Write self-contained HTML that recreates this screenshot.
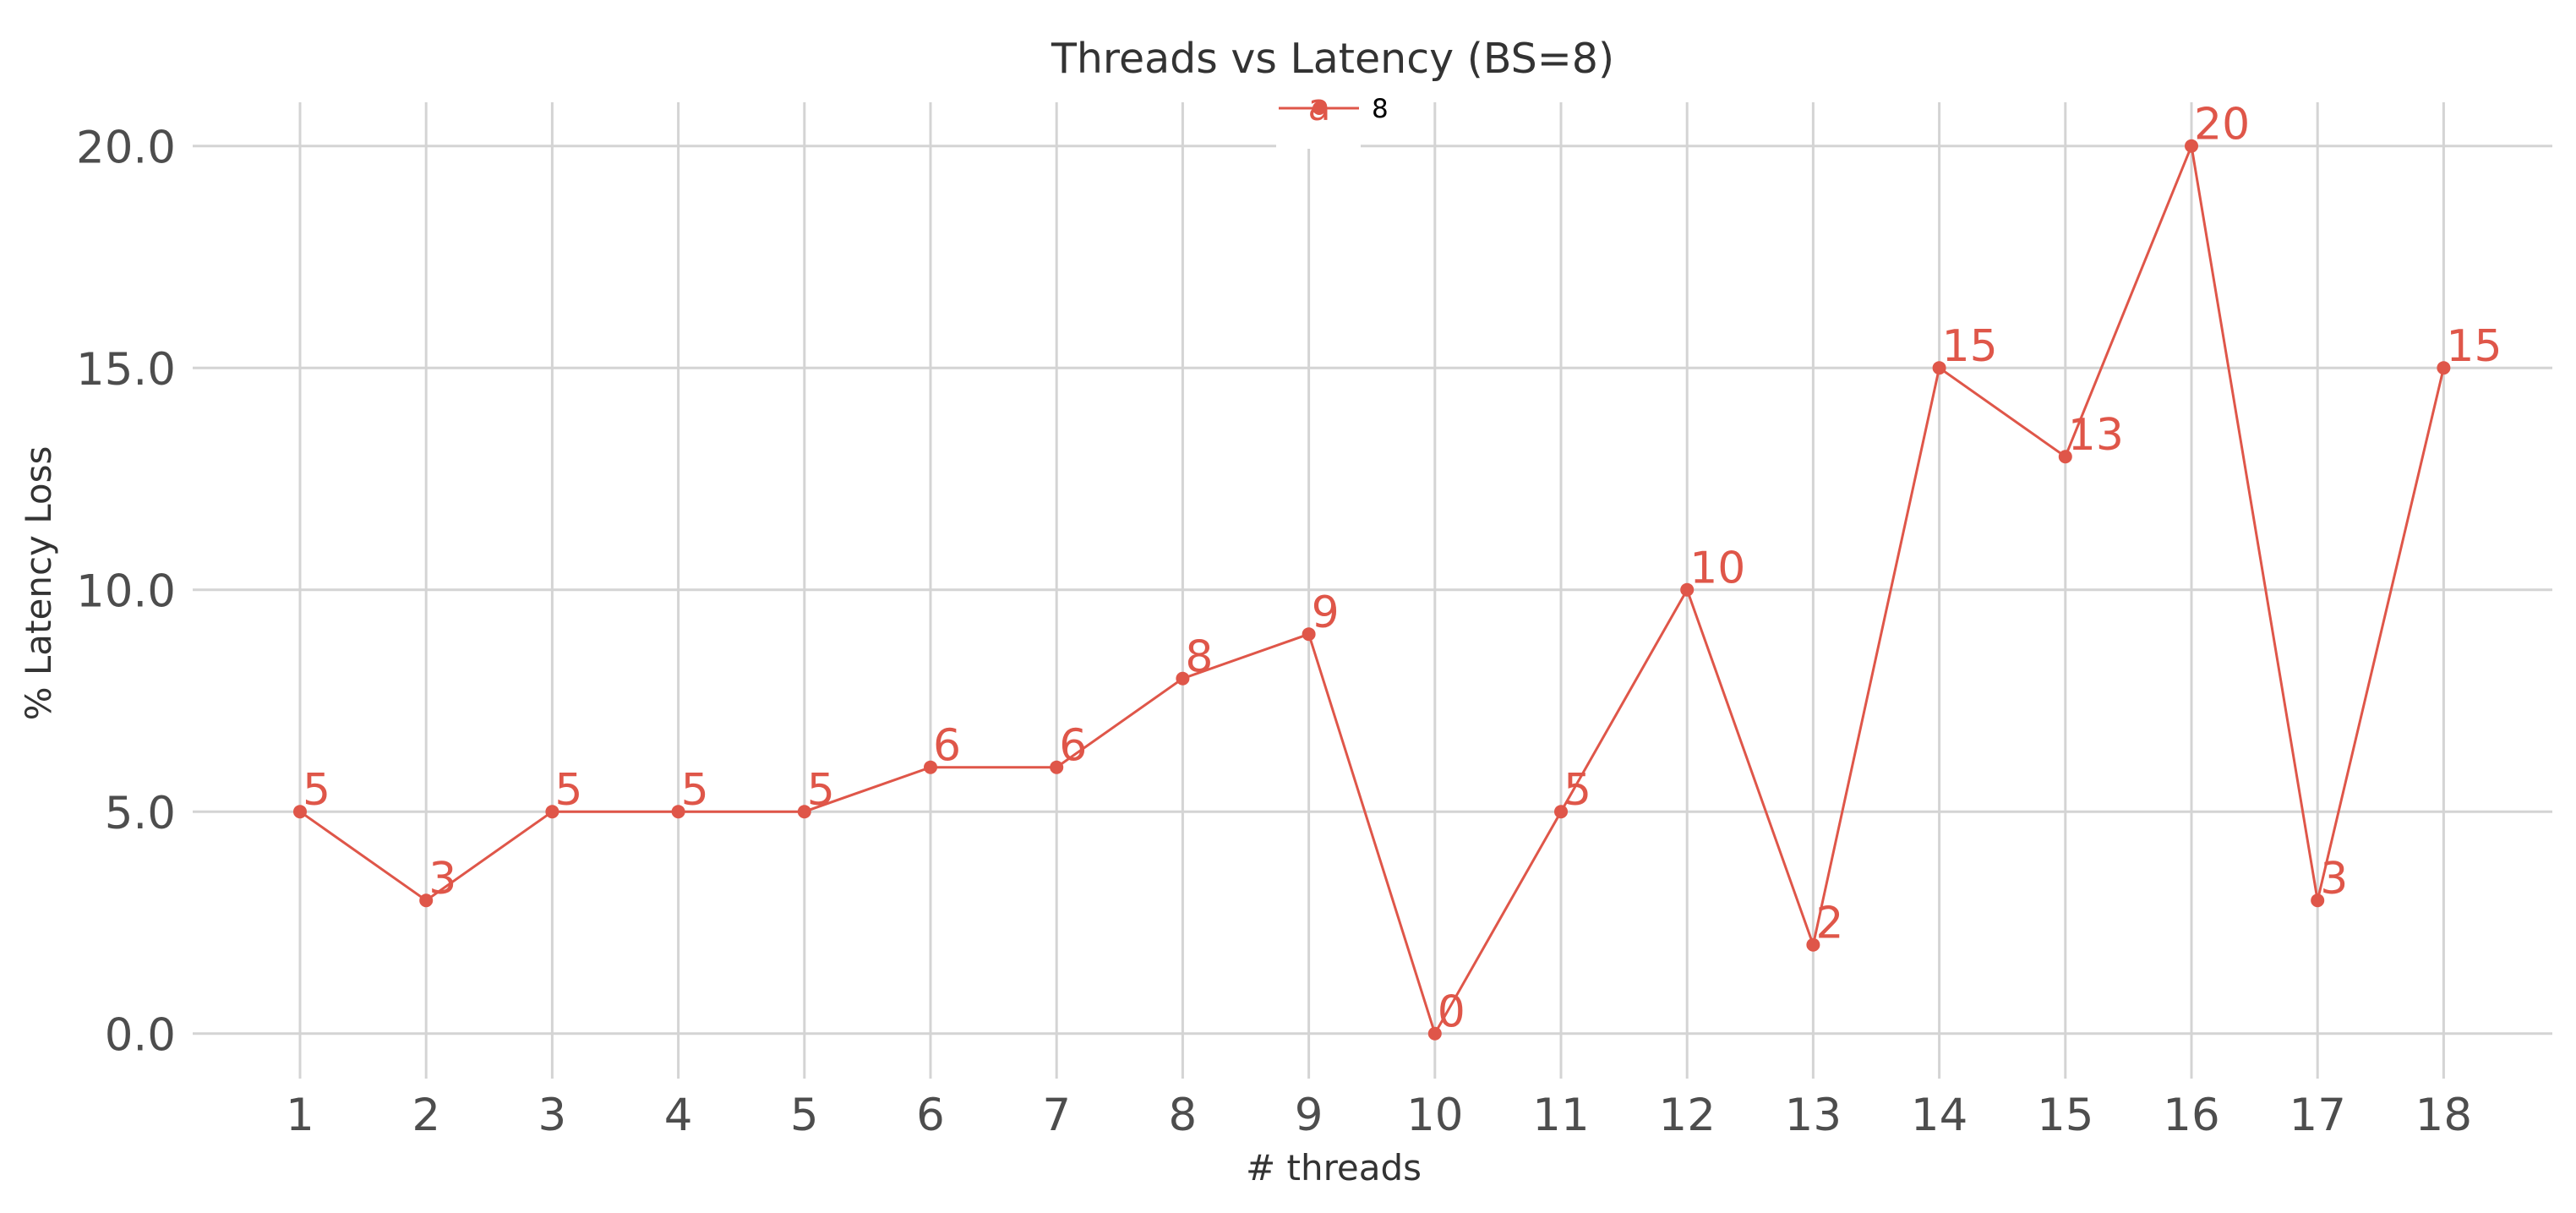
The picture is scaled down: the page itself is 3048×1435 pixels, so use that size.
<!DOCTYPE html>
<html><head><meta charset="utf-8"><style>
html,body{margin:0;padding:0;background:#fff;}
svg{display:block;font-family:"DejaVu Sans","Liberation Sans",sans-serif;}
</style></head><body>
<svg id="chart" width="3048" height="1435" viewBox="0 0 3048 1435" xmlns="http://www.w3.org/2000/svg">
<g id="grid"></g>
<g id="series"></g>
<g id="labels"></g>
<text x="1577" y="86" text-anchor="middle" font-size="49" fill="#333">Threads vs Latency (BS=8)</text>
<text x="1578" y="1396" text-anchor="middle" font-size="42" fill="#333"># threads</text>
<text transform="translate(60,690) rotate(-90)" text-anchor="middle" font-size="42" fill="#333">% Latency Loss</text>
<g>
<rect x="1510" y="110" width="100" height="66" fill="#fff"/>
<line x1="1513" y1="128" x2="1608" y2="128" stroke="#df5649" stroke-width="3"/>
<circle cx="1561" cy="128" r="8" fill="#df5649"/>
<text x="1561" y="142" text-anchor="middle" font-size="44" fill="#df5649">a</text>
<text x="1623" y="139" font-size="31" fill="#000">8</text>
</g>
</svg>
<script>
const threads = [1,2,3,4,5,6,7,8,9,10,11,12,13,14,15,16,17,18];
const latency = [5,3,5,5,5,6,6,8,9,0,5,10,2,15,13,20,3,15];
const yTicks = [0,5,10,15,20];
const yTickLabels = ["0.0","5.0","10.0","15.0","20.0"];

const NS = "http://www.w3.org/2000/svg";
const X0 = 355, DX = 149.2, Y0 = 1222.7, DY = 52.5;
function xs(v){ return X0 + (v-1)*DX; }
function ys(v){ return Y0 - v*DY; }
function mk(tag, attrs, parent){
  const e = document.createElementNS(NS, tag);
  for (const k in attrs) e.setAttribute(k, attrs[k]);
  parent.appendChild(e);
  return e;
}
const grid = document.getElementById('grid');
const labels = document.getElementById('labels');
const series = document.getElementById('series');
const GC = "#d4d4d4";
yTicks.forEach((t,i)=>{
  const l = mk('line',{x1:228,x2:3020,y1:ys(t),y2:ys(t),stroke:GC,'stroke-width':3},grid);
  
  
  const tx = mk('text',{x:208,y:ys(t)+20,'text-anchor':'end','font-size':53,fill:'#4d4d4d'},labels);
  tx.textContent = yTickLabels[i];
  
  
});
threads.forEach(t=>{
  const l = mk('line',{x1:xs(t),x2:xs(t),y1:121,y2:1276,stroke:GC,'stroke-width':3},grid);
  
  
  const tx = mk('text',{x:xs(t),y:1337,'text-anchor':'middle','font-size':53,fill:'#4d4d4d'},labels);
  tx.textContent = String(t);
  
  
});
const pts = threads.map((t,i)=>xs(t)+','+ys(latency[i])).join(' ');
const pl = mk('polyline',{points:pts,fill:'none',stroke:'#df5649','stroke-width':3},series);


threads.forEach((t,i)=>{
  const c = mk('circle',{cx:xs(t),cy:ys(latency[i]),r:8,fill:'#df5649'},series);
  
  
  const tx = mk('text',{x:xs(t)+3,y:ys(latency[i])-8,'font-size':52,fill:'#df5649'},series);
  tx.textContent = String(latency[i]);
  
  
});
</script>
</body></html>
